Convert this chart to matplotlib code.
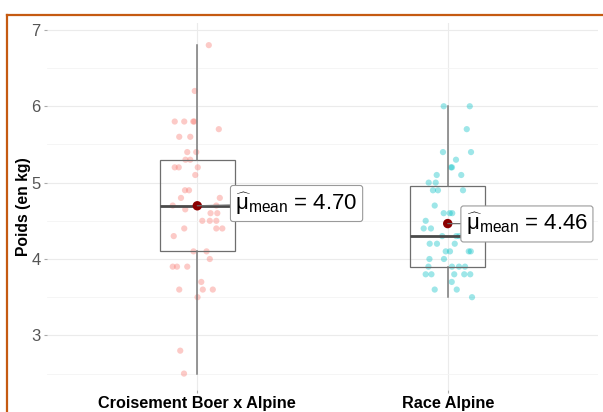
import matplotlib
matplotlib.use("Agg")
import matplotlib.pyplot as plt
from matplotlib.lines import Line2D
import numpy as np

plt.rcParams['font.family'] = ['Liberation Sans', 'DejaVu Sans']
plt.rcParams['mathtext.fontset'] = 'custom'
plt.rcParams['mathtext.rm'] = 'Liberation Sans'
plt.rcParams['mathtext.it'] = 'Liberation Sans:italic'
plt.rcParams['mathtext.bf'] = 'Liberation Sans:bold'

# ---- data ----
categories = ["Croisement Boer x Alpine", "Race Alpine"]

boer_values = [6.8, 6.2, 5.8, 5.8, 5.8, 5.8, 5.7, 5.6, 5.6, 5.4, 5.4, 5.3, 5.3,
               5.2, 5.2, 5.2, 5.1, 4.9, 4.9, 4.8, 4.8, 4.7, 4.7, 4.7, 4.65,
               4.6, 4.6, 4.5, 4.5, 4.5, 4.4, 4.4, 4.4, 4.3, 4.1, 4.1, 4.0,
               3.9, 3.9, 3.9, 3.7, 3.6, 3.6, 3.6, 3.5, 2.8, 2.5]
boer_jitter = [0.046, -0.010, -0.090, -0.052, -0.016, -0.012, 0.086, -0.072, -0.028,
               -0.040, -0.004, -0.047, -0.028, -0.090, -0.074, 0.002, -0.008,
               -0.049, -0.033, -0.065, 0.090, -0.098, 0.076, 0.0, -0.048,
               0.053, 0.080, 0.020, 0.050, 0.076, -0.052, 0.076, 0.100, -0.094,
               -0.015, 0.037, 0.050, -0.098, -0.081, -0.040, 0.016, -0.072,
               0.022, 0.062, 0.001, -0.068, -0.053]

alpine_values = [6.0, 6.0, 5.7, 5.4, 5.4, 5.3, 5.2, 5.2, 5.1, 5.1, 5.0, 5.0,
                 4.9, 4.9, 4.9, 4.7, 4.6, 4.6, 4.6, 4.5, 4.4, 4.4, 4.3, 4.3,
                 4.3, 4.2, 4.2, 4.2, 4.1, 4.1, 4.1, 4.1, 4.0, 4.0, 3.9, 3.9,
                 3.9, 3.9, 3.8, 3.8, 3.8, 3.8, 3.8, 3.7, 3.6, 3.6, 3.5]
alpine_jitter = [-0.016, 0.088, 0.076, -0.019, 0.093, 0.033, 0.013, 0.017, -0.044,
                 0.054, -0.076, -0.048, -0.059, -0.039, 0.061, -0.052, -0.016,
                 0.008, 0.018, -0.088, -0.096, -0.067, -0.022, 0.034, 0.046,
                 -0.072, -0.043, 0.028, -0.008, 0.009, 0.084, 0.092, -0.073,
                 -0.015, -0.077, 0.017, 0.045, 0.069, -0.088, -0.065, 0.026,
                 0.066, 0.090, 0.016, -0.052, 0.036, 0.097]

groups = [boer_values, alpine_values]
jitters = [boer_jitter, alpine_jitter]
point_colors = ["#F8766D", "#00BFC4"]
label_dx = [0.152, 0.072]
label_dy = [0.03, -0.005]

yticks = [3, 4, 5, 6, 7]
ylabel = "Poids (en kg)"

# ---- figure ----
fig = plt.figure(figsize=(6.03, 4.12), dpi=100)
ax = fig.add_axes([47 / 603, 1 - 390 / 412, (598 - 47) / 603, (390 - 23) / 412])

positions = np.arange(1, len(categories) + 1)

# points
for pos, vals, jit, col in zip(positions, groups, jitters, point_colors):
    ax.scatter(pos + np.array(jit), vals, s=20, color=col, alpha=0.38,
               edgecolors='none', zorder=2)

# boxplot
bp = ax.boxplot(groups, positions=positions, widths=0.3, showfliers=False,
                showcaps=False, whis=1.5, patch_artist=True, zorder=3,
                manage_ticks=False,
                boxprops=dict(facecolor='none', edgecolor='#6E6E6E', linewidth=0.9),
                whiskerprops=dict(color='#7A7A7A', linewidth=1.1),
                medianprops=dict(color='#4A4A4A', linewidth=2.0))

# means
means = [np.mean(g) for g in groups]
ax.scatter(positions, means, s=46, color='#8B0000', zorder=5, edgecolors='none')

for pos, m, dx, dy in zip(positions, means, label_dx, label_dy):
    ax.annotate(r"$\widehat{\mathrm{\mu}}_{\mathrm{mean}}$" + f" = {m:.2f}",
                xy=(pos, m), xytext=(pos + dx, m + dy), textcoords='data',
                ha='left', va='center', fontsize=16, color='black', zorder=6,
                bbox=dict(boxstyle='round,pad=0.22,rounding_size=0.12',
                          fc='white', ec='#9A9A9A', lw=0.8),
                arrowprops=dict(arrowstyle='-', color='#6E6E6E', lw=0.9,
                                shrinkA=0, shrinkB=0))

ax.set_xlim(0.4, 2.6)
ax.set_ylim(2.285, 7.09)

# grid
ax.set_yticks(yticks)
ax.set_yticks([2.5, 3.5, 4.5, 5.5, 6.5], minor=True)
ax.set_xticks(positions)
ax.grid(True, which='major', color='#EBEBEB', linewidth=0.8)
ax.grid(True, which='minor', axis='y', color='#F4F4F4', linewidth=0.6)
ax.set_axisbelow(True)
for s in ax.spines.values():
    s.set_visible(False)

ax.set_xticklabels(categories, fontsize=11.7, fontweight='bold', color='black')
ax.set_yticklabels([str(t) for t in yticks], fontsize=12, color='#555555')
ax.tick_params(axis='y', which='major', length=2.5, color='#AAAAAA', pad=2)
ax.tick_params(axis='y', which='minor', length=0)
ax.tick_params(axis='x', length=2, color='#AAAAAA', pad=2)
ax.set_ylabel(ylabel, fontsize=11.3, fontweight='bold', labelpad=0.5)

# orange frame
fig.add_artist(Line2D([7 / 603, 1.0], [1 - 14.5 / 412, 1 - 14.5 / 412],
                      transform=fig.transFigure, color='#C55A11', lw=1.6))
fig.add_artist(Line2D([7 / 603, 7 / 603], [0.0, 1 - 14.5 / 412],
                      transform=fig.transFigure, color='#C55A11', lw=1.6))

fig.savefig("out.png", dpi=100, facecolor='white')
